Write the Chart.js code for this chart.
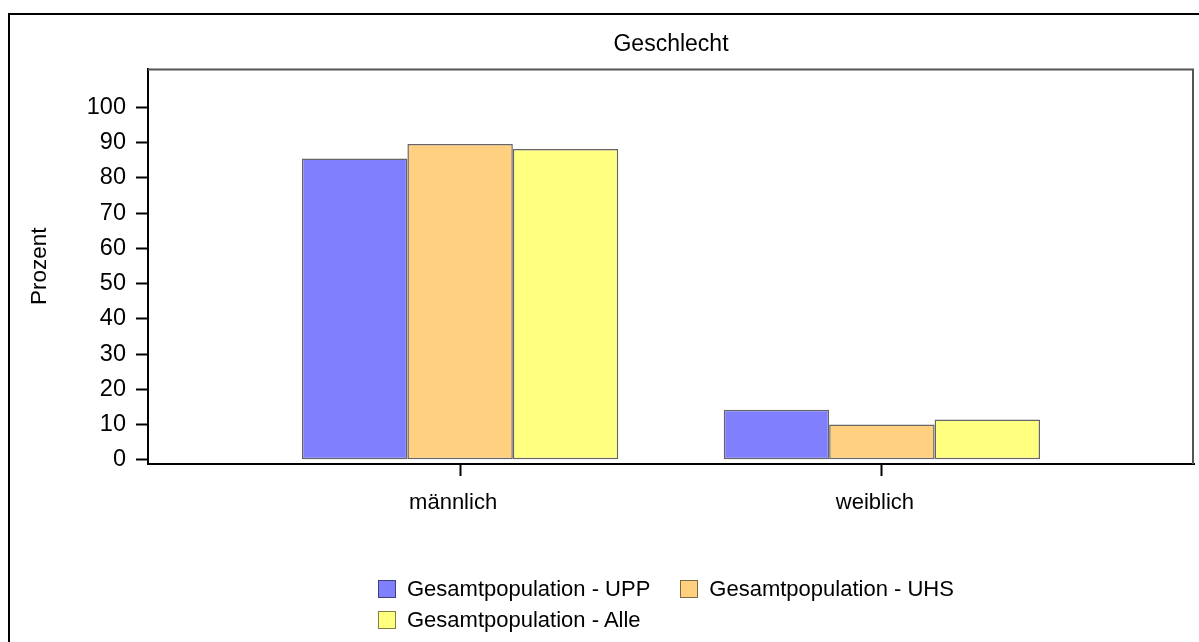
<!DOCTYPE html>
<html lang="de">
<head>
<meta charset="utf-8">
<title>Geschlecht</title>
<script src="https://cdn.jsdelivr.net/npm/chart.js@4.4.1/dist/chart.umd.min.js"></script>
<style>
  html, body { margin: 0; padding: 0; background: #fff; overflow: hidden; }
  #wrap { position: relative; width: 1199px; height: 642px; }
  #frame { position: absolute; left: 8px; top: 13px; width: 1400px; height: 900px;
           border-left: 2px solid #000; border-top: 2px solid #000; }
  #chart { position: absolute; left: 0; top: 0; }
  #legend { position: absolute; left: 378px; top: 577px; width: 600px;
            display: flex; flex-wrap: wrap; column-gap: 30px; row-gap: 7px;
            font: 22px Arial, "Liberation Sans", sans-serif; color: #000; }
  #legend .item { display: flex; align-items: center; height: 24px; white-space: nowrap; }
  #legend .box { width: 16px; height: 16px; margin-right: 11px; border: 1.5px solid rgba(0,0,0,0.5); }
</style>
</head>
<body>
<div id="wrap">
  <div id="frame"></div>
  <canvas id="chart" width="1199" height="642"></canvas>
  <div id="legend"></div>
</div>
<script>
  const categories = ['männlich', 'weiblich'];
  const seriesNames = ['Gesamtpopulation - UPP', 'Gesamtpopulation - UHS', 'Gesamtpopulation - Alle'];
  const upp = [85.5, 14.2];
  const uhs = [89.6, 10.0];
  const alle = [88.2, 11.4];
  const yTicks = [0, 10, 20, 30, 40, 50, 60, 70, 80, 90, 100];
  const colors = ['#8080ff', '#ffd080', '#ffff80'];

  function el(id) { return document.getElementById(id); }

  function toPoints(values) {
    return values.map((v, i) => ({ x: i, y: v }));
  }

  // top and right edge of the plot box
  const plotFrame = {
    id: 'plotFrame',
    afterDraw(chart) {
      const { ctx, chartArea: a } = chart;
      ctx.save();
      ctx.strokeStyle = '#555';
      ctx.lineWidth = 2;
      ctx.beginPath();
      ctx.moveTo(a.left, a.top + 1);
      ctx.lineTo(a.right - 1, a.top + 1);
      ctx.lineTo(a.right - 1, a.bottom);
      ctx.stroke();
      ctx.restore();
    }
  };

  Chart.defaults.font.family = 'Arial, "Liberation Sans", sans-serif';
  Chart.defaults.font.size = 22;
  Chart.defaults.color = '#000';

  const datasets = [upp, uhs, alle].map((vals, i) => ({
    label: seriesNames[i],
    data: toPoints(vals),
    backgroundColor: colors[i],
    borderColor: 'rgba(0,0,0,0.6)',
    borderWidth: 1.5,
    borderSkipped: false,
    categoryPercentage: 0.75,
    barPercentage: 1.0
  }));

  const chart = new Chart(el('chart').getContext('2d'), {
    type: 'bar',
    data: { datasets },
    plugins: [plotFrame],
    options: {
      responsive: false,
      animation: false,
      layout: { padding: { left: 10, right: 5, top: 14, bottom: 112 } },
      plugins: {
        legend: { display: false },
        tooltip: { enabled: false },
        title: {
          display: true,
          text: 'Geschlecht',
          fullSize: false,
          color: '#000',
          font: { size: 23, weight: 'normal' },
          padding: { top: 17, bottom: 10 }
        }
      },
      scales: {
        x: {
          type: 'linear',
          min: -0.74,
          max: 1.74,
          offset: false,
          afterBuildTicks: s => { s.ticks = categories.map((c, i) => ({ value: i })); },
          afterFit: s => { s.height = 66; },
          ticks: { callback: v => categories[v], padding: 14, maxRotation: 0, labelOffset: -7, font: { size: 22 } },
          grid: { display: true, drawOnChartArea: false, offset: false, tickLength: 12, tickWidth: 2, tickColor: '#000' },
          border: { display: true, color: '#000', width: 2 }
        },
        y: {
          min: -1.2,
          max: 111,
          afterBuildTicks: s => { s.ticks = yTicks.map(v => ({ value: v })); },
          afterFit: s => { s.width = 138; },
          ticks: { padding: 10, font: { size: 23.5 } },
          grid: { display: true, drawOnChartArea: false, tickLength: 12, tickWidth: 2, tickColor: '#000' },
          border: { display: true, color: '#000', width: 2 },
          title: { display: true, text: 'Prozent', font: { size: 22.5 }, padding: { top: 16, bottom: 0 } }
        }
      }
    }
  });

  // legend laid out like the original (left-aligned rows)
  const legend = el('legend');
  chart.data.datasets.forEach(ds => {
    const item = document.createElement('div');
    item.className = 'item';
    const box = document.createElement('span');
    box.className = 'box';
    box.style.background = ds.backgroundColor;
    const label = document.createElement('span');
    label.textContent = ds.label;
    item.appendChild(box);
    item.appendChild(label);
    legend.appendChild(item);
  });
</script>
</body>
</html>
